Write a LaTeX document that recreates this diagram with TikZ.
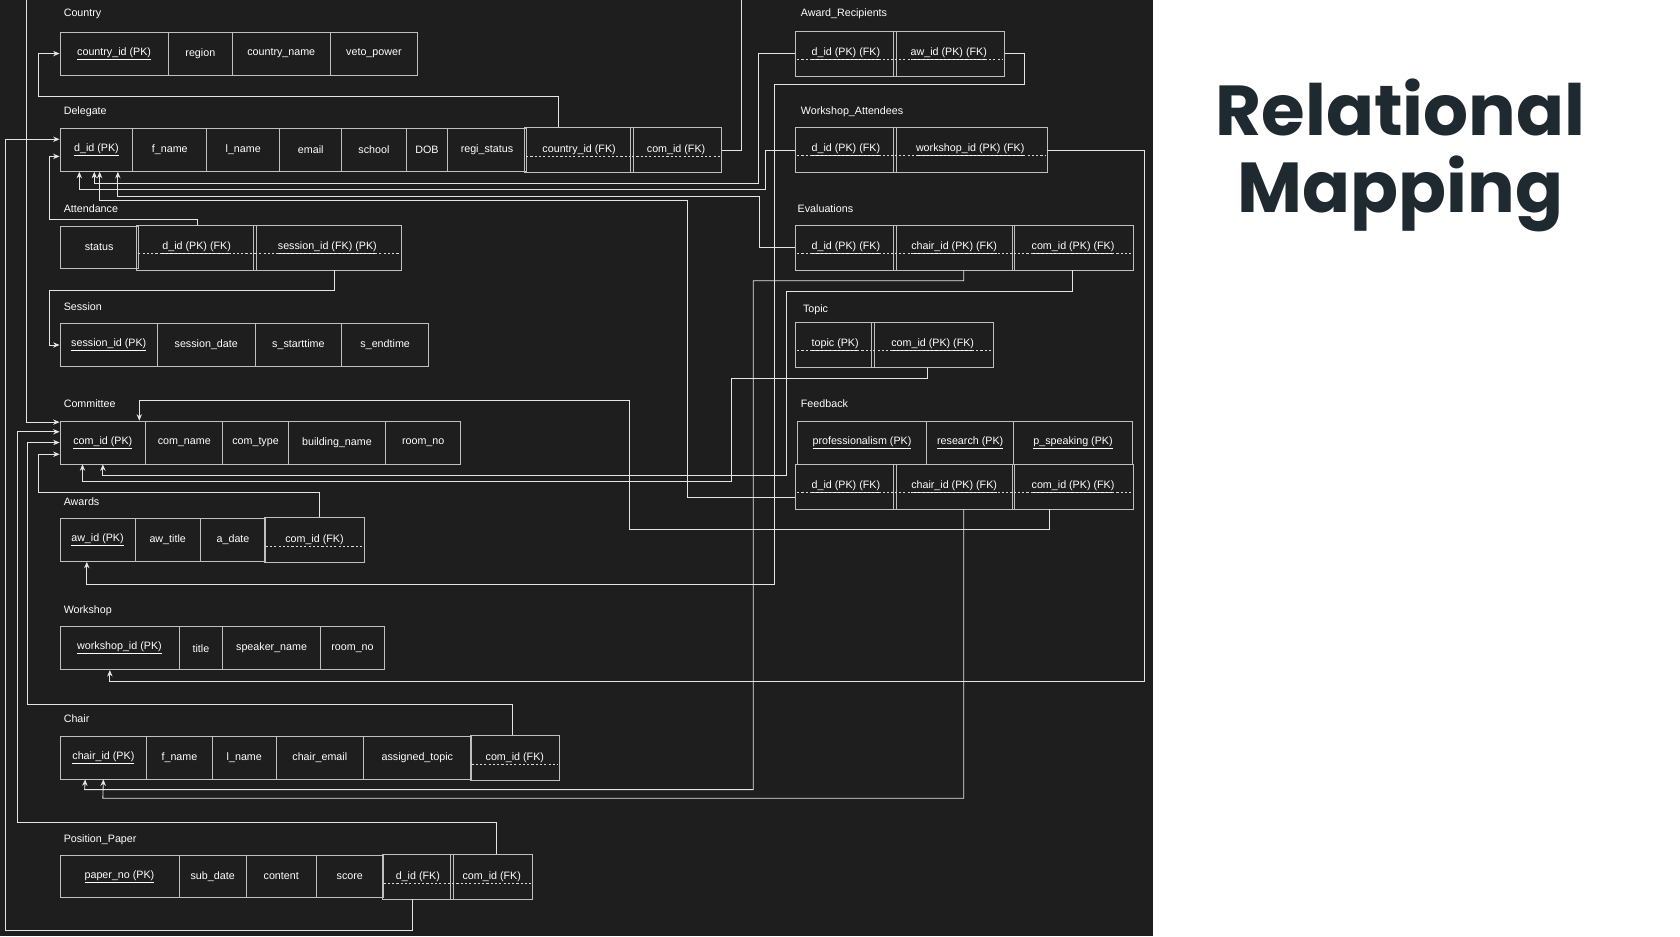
\documentclass[tikz,border=0pt]{standalone}
\usepackage{fontspec}
\setmainfont{Liberation Sans}
\newfontfamily\titlefont{Poppins}
\usetikzlibrary{arrows.meta,calc}
\definecolor{panel}{HTML}{1E1E1E}
\definecolor{titleink}{HTML}{1F2A30}
\newcommand\pk[1]{\underline{#1}}
\newcommand\fk[1]{\tikz[baseline=(t.base)]{\node[inner sep=0pt,outer sep=0pt] (t) {#1};
  \draw[white!85!black,dash pattern=on 2pt off 2pt,line width=0.5pt] ([yshift=-3.5pt]t.base west) -- ([yshift=-3.5pt]t.base east);}}
\newcommand\pkfk[1]{\fk{\underline{#1}}}

\begin{document}
\begin{tikzpicture}[x=1pt,y=-1pt,
  cell/.style={draw=white!75!black,line width=0.8pt,text=white,minimum height=40pt,inner sep=1pt,font=\fontsize{10}{12}\selectfont},
  lbl/.style={anchor=west,text=white,font=\fontsize{10}{12}\selectfont},
  fk/.style={draw=white!90!black,line width=0.8pt,-{Stealth[length=6pt,width=5pt]}}]
\useasboundingbox (0,0) rectangle (1568,874);
\fill[panel] (0,0) rectangle (1076,874);
\node[text=titleink,font=\titlefont\bfseries\fontsize{66}{72}\selectfont,align=center] (title) at (1307,145) {Relational\\Mapping};
% left column tables
\node[lbl] at (56,13) {Country};
\foreach \n/\a/\b/\t in {ctid/56/157/{\pk{country\_id (PK)}},ctrg/157/217/region,ctnm/217/308/country\_name,ctvp/308/390/veto\_power}
  \node[cell,minimum width=\b-\a] (\n) at ({(\a+\b)/2},50) {\t};
\node[lbl] at (56,104) {Delegate};
\foreach \n/\a/\b/\t in {dlid/56/124/{\pk{d\_id (PK)}},dlfn/124/193/f\_name,dlln/193/261/l\_name,dlem/261/319/email,dlsc/319/379/school,dldob/379/418/DOB,dlrs/418/491/regi\_status,dlcid/491/590/{\fk{country\_id (FK)}},dlcom/590/672/{\fk{com\_id (FK)}}}
  \node[cell,minimum width=\b-\a] (\n) at ({(\a+\b)/2},140) {\t};
\node[lbl] at (56,195) {Attendance};
\foreach \n/\a/\b/\t in {atst/56/129/status,atd/129/238/{\pkfk{d\_id (PK) (FK)}},ats/238/373/{\pkfk{session\_id (FK) (PK)}}}
  \node[cell,minimum width=\b-\a] (\n) at ({(\a+\b)/2},231) {\t};
\node[lbl] at (56,286) {Session};
\foreach \n/\a/\b/\t in {ssid/56/147/{\pk{session\_id (PK)}},ssdt/147/238/session\_date,ssst/238/319/s\_starttime,ssen/319/400/s\_endtime}
  \node[cell,minimum width=\b-\a] (\n) at ({(\a+\b)/2},322) {\t};
\node[lbl] at (56,377) {Committee};
\foreach \n/\a/\b/\t in {cmid/56/136/{\pk{com\_id (PK)}},cmnm/136/208/com\_name,cmty/208/269/com\_type,cmbn/269/360/building\_name,cmrm/360/430/room\_no}
  \node[cell,minimum width=\b-\a] (\n) at ({(\a+\b)/2},413) {\t};
\node[lbl] at (56,468) {Awards};
\foreach \n/\a/\b/\t in {awid/56/126/{\pk{aw\_id (PK)}},awti/126/187/aw\_title,awdt/187/248/a\_date,awc/248/339/{\fk{com\_id (FK)}}}
  \node[cell,minimum width=\b-\a] (\n) at ({(\a+\b)/2},504) {\t};
\node[lbl] at (56,570) {Workshop};
\foreach \n/\a/\b/\t in {wsid/56/167/{\pk{workshop\_id (PK)}},wsti/167/208/title,wssp/208/299/speaker\_name,wsrm/299/359/room\_no}
  \node[cell,minimum width=\b-\a] (\n) at ({(\a+\b)/2},605) {\t};
\node[lbl] at (56,671) {Chair};
\foreach \n/\a/\b/\t in {chid/56/137/{\pk{chair\_id (PK)}},chfn/137/198/f\_name,chln/198/258/l\_name,chem/258/339/chair\_email,chat/339/440/assigned\_topic,chc/440/521/{\fk{com\_id (FK)}}}
  \node[cell,minimum width=\b-\a] (\n) at ({(\a+\b)/2},707) {\t};
\node[lbl] at (56,784) {Position\_Paper};
\foreach \n/\a/\b/\t in {ppno/56/167/{\pk{paper\_no (PK)}},ppsd/167/230/sub\_date,ppct/230/295/content,ppsc/295/358/score,ppd/358/422/{\fk{d\_id (FK)}},ppc/422/496/{\fk{com\_id (FK)}}}
  \node[cell,minimum width=\b-\a] (\n) at ({(\a+\b)/2},818) {\t};
% right column tables
\node[lbl] at (744,13) {Award\_Recipients};
\foreach \n/\a/\b/\t in {ard/744/835/{\pkfk{d\_id (PK) (FK)}},araw/835/936/{\pkfk{aw\_id (PK) (FK)}}}
  \node[cell,minimum width=\b-\a] (\n) at ({(\a+\b)/2},50) {\t};
\node[lbl] at (744,104) {Workshop\_Attendees};
\foreach \n/\a/\b/\t in {wad/744/835/{\pkfk{d\_id (PK) (FK)}},waw/835/976/{\pkfk{workshop\_id (PK) (FK)}}}
  \node[cell,minimum width=\b-\a] (\n) at ({(\a+\b)/2},140) {\t};
\node[lbl] at (741,195) {Evaluations};
\foreach \n/\a/\b/\t in {evd/744/835/{\pkfk{d\_id (PK) (FK)}},evch/835/946/{\pkfk{chair\_id (PK) (FK)}},evc/946/1057/{\pkfk{com\_id (PK) (FK)}}}
  \node[cell,minimum width=\b-\a] (\n) at ({(\a+\b)/2},231) {\t};
\node[lbl] at (746,289) {Topic};
\foreach \n/\a/\b/\t in {tptp/744/815/{\pkfk{topic (PK)}},tpc/815/926/{\pkfk{com\_id (PK) (FK)}}}
  \node[cell,minimum width=\b-\a] (\n) at ({(\a+\b)/2},322) {\t};
\node[lbl] at (744,377) {Feedback};
\foreach \n/\a/\b/\t in {fbpr/744/865/{\pk{professionalism (PK)}},fbre/865/946/{\pk{research (PK)}},fbps/946/1057/{\pk{p\_speaking (PK)}}}
  \node[cell,minimum width=\b-\a] (\n) at ({(\a+\b)/2},413) {\t};
\foreach \n/\a/\b/\t in {fbd/744/835/{\pkfk{d\_id (PK) (FK)}},fbch/835/946/{\pkfk{chair\_id (PK) (FK)}},fbc/946/1057/{\pkfk{com\_id (PK) (FK)}}}
  \node[cell,minimum width=\b-\a] (\n) at ({(\a+\b)/2},454) {\t};
% connectors
\draw[fk] ([xshift=-19pt]dlcid.north) |- (36,90) |- (ctid.west);
\draw[fk] (dlcom.east) -| (692,-6) -- (25,-6) |- ([yshift=19pt]cmid.west);
\draw[fk] (ard.west) -| (708,171) -| ([xshift=-2pt]dlid.south);
\draw[fk] (wad.west) -| (714,177) -| ([xshift=-16pt]dlid.south);
\draw[fk] (evd.west) -| (709,183) -| ([xshift=20pt]dlid.south);
\draw[fk] ([yshift=-10pt]fbd.west) -| (642,187) -| ([xshift=3pt]dlid.south);
\draw[fk] ([xshift=1pt]atd.north) |- (46,205) |- ([yshift=-6pt]dlid.west);
\draw[fk] ([xshift=-5pt]ppd.south) |- (5,868) |- ([yshift=10pt]dlid.west);
\draw[fk] ([xshift=7pt]ats.south) |- (46,271) |- (ssid.west);
\draw[fk] ([xshift=-22pt]fbc.south) |- (587,494) |- (130,374) -- ([xshift=34pt]cmid.north);
\draw[fk] ([xshift=-5pt]tpc.south) |- (683,353) |- (77,449) -- ([xshift=-19pt]cmid.south);
\draw[fk] ([xshift=-1pt]evc.south) |- (734,272) |- (96,444) -- (cmid.south);
\draw[fk] ([xshift=5pt]awc.north) |- (36,460) |- ([yshift=-11pt]cmid.west);
\draw[fk] (araw.east) -| (956,79) -| (723,545) -| ([xshift=-10pt]awid.south);
\draw[fk] (waw.east) -| (1068,636) -| ([xshift=-9pt]wsid.south);
\draw[fk] ([xshift=-2pt]chc.north) |- (26,657) |- (cmid.west);
\draw[fk] ([xshift=9pt]evch.south) |- (703,262) |- (79,737) -- ([xshift=-17pt]chid.south);
\draw[fk] ([xshift=9pt]fbch.south) |- (96,745) -- (chid.south);
\draw[fk] ([xshift=4pt]ppc.north) |- (16,768) |- ([yshift=10pt]cmid.west);
\end{tikzpicture}
\end{document}
